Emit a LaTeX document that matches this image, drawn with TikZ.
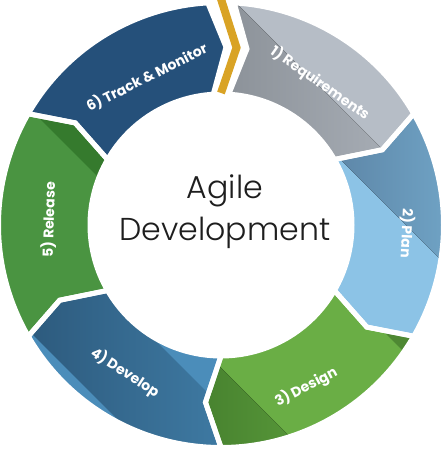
\documentclass[tikz,border=0pt]{standalone}
\usepackage{fontspec}
\newfontfamily\labelfont{Poppins}
\newfontfamily\agilefont{Poppins Light}
\definecolor{reqbase}{HTML}{B6BDC6}
\definecolor{reqdarkA}{HTML}{8B9198}
\definecolor{reqdarkB}{HTML}{A8AEB6}
\definecolor{planbase}{HTML}{8CC3E6}
\definecolor{plandarkA}{HTML}{55799A}
\definecolor{plandarkB}{HTML}{6FA2C4}
\definecolor{desbase}{HTML}{6AAE45}
\definecolor{desdarkA}{HTML}{46802E}
\definecolor{desdarkB}{HTML}{579739}
\definecolor{devdarkA}{HTML}{2A5577}
\definecolor{devdarkB}{HTML}{3F7BA4}
\definecolor{devlight}{HTML}{4B8DBA}
\definecolor{relbase}{HTML}{4A9441}
\definecolor{reldark}{HTML}{357A2D}
\definecolor{trackbase}{HTML}{25507A}
\definecolor{gold}{HTML}{D9A325}
\definecolor{agilegray}{HTML}{1E1E1E}
\def\rout{222.5}
\def\rin{131}
\def\rmid{178}
\def\tipoff{5}
\newcommand{\segpath}[2]{(#1:\rout) arc[start angle=#1, end angle=#2, radius=\rout] -- ({#2-\tipoff}:\rmid) -- (#2:\rin) arc[start angle=#2, end angle=#1, radius=\rin] -- ({#1-\tipoff}:\rmid) -- cycle}
\begin{document}
\begin{tikzpicture}[scale=0.02,
  seglabel/.style={font=\labelfont\bfseries\fontsize{8}{9}\selectfont, text=white, inner sep=0pt},
  gapline/.style={draw=white, line width=0.1cm, line join=miter},
  agiletext/.style={font=\agilefont\fontsize{18}{24}\selectfont, text=agilegray, align=center}]
\useasboundingbox (-221,-225) rectangle (225,225);
% ring segments, clockwise from the top
\foreach \a/\b/\base in {86.6/30/reqbase,30/-30/planbase,-30/-90/desbase,-90/-150/devdarkA,-150/-210/relbase,150/93.4/trackbase}
  \fill[\base] \segpath{\a}{\b};
% long shadows
\begin{scope}
  \clip \segpath{86.6}{30};
  \fill[left color=reqdarkA, right color=reqdarkB] (0,60) -- (177,60) -- (12,225) -- (0,225) -- cycle;
\end{scope}
\begin{scope}
  \clip \segpath{30}{-30};
  \fill[left color=plandarkA, right color=plandarkB] (60,125) -- (225,125) -- (225,-40) -- cycle;
\end{scope}
\begin{scope}
  \clip \segpath{-30}{-90};
  \fill[desdarkB!90!black] (140,-84) -- (225,-84) -- (225,-169) -- cycle;
  \fill[left color=desdarkA, right color=desdarkB] (-30,-113) -- (82,-225) -- (-30,-225) -- cycle;
\end{scope}
\begin{scope}
  \clip \segpath{-90}{-150};
  \fill[left color=devdarkA, right color=devdarkB] (-225,-225) rectangle (10,-50);
  \fill[devlight] (-120,-61) -- (10,-191) -- (10,-61) -- cycle;
  \fill[devlight] (-225,-73) -- (-73,-225) -- (-225,-225) -- cycle;
\end{scope}
\begin{scope}
  \clip \segpath{-150}{-210};
  \fill[reldark] (-200,125) -- (-105,30) -- (-60,30) -- (-60,125) -- cycle;
\end{scope}
% white gaps and the gold chevron
\foreach \a/\b in {86.6/30,30/-30,-30/-90,-90/-150,-150/-210,150/93.4}
  \draw[gapline] \segpath{\a}{\b};
\draw[gold, line width=0.16cm, line join=miter] (90:226) -- (85:\rmid) -- (90:132);
% labels
\foreach \i/\ang/\rad/\rot/\txt in {1/55.1/173/-35/1) Requirements,2/-2.5/186/-92.5/2) Plan,3/-62.3/183/27.7/3) Design,4/-123/176/-33/4) Develop,5/178.3/172/88.3/5) Release,6/116.7/165/26.7/6) Track \& Monitor}
  \node[seglabel, rotate=\rot] (lab\i) at (\ang:\rad) {\txt};
\node[agiletext] (agile) at (4,13) {Agile\\Development};
\end{tikzpicture}
\end{document}
